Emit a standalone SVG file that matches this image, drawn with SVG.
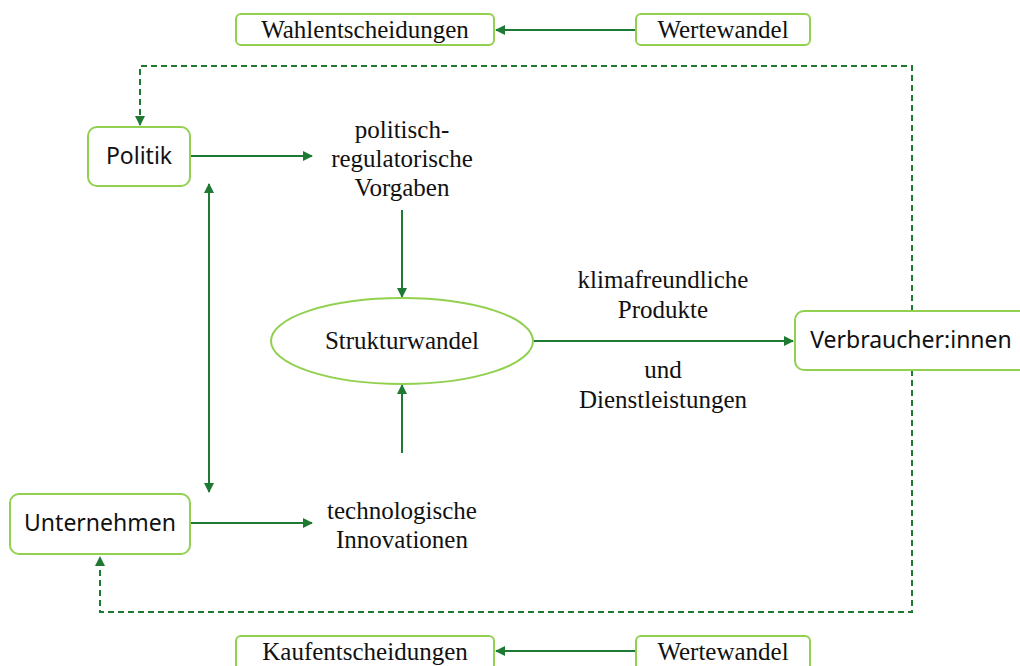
<svg xmlns="http://www.w3.org/2000/svg" width="1020" height="666" viewBox="0 0 1020 666">
<style>
.box{fill:#fff;stroke:#92d050;stroke-width:2}
.serif{font-family:"Liberation Serif","Times New Roman",serif;font-size:25px;fill:#111;text-anchor:middle}
.sans{font-family:"Noto Sans","Liberation Sans",sans-serif;font-size:23px;fill:#111;text-anchor:middle}
.ln{stroke:#1e7a32;stroke-width:2;fill:none}
.dash{stroke:#1e7a32;stroke-width:2;fill:none;stroke-dasharray:6 4}
</style>
<defs>
<marker id="ah" viewBox="0 0 10 10" refX="9" refY="5" markerWidth="5" markerHeight="5" orient="auto-start-reverse">
<path d="M0,0 L10,5 L0,10 z" fill="#1e7a32"/>
</marker>
</defs>
<rect width="1020" height="666" fill="#fff"/>
<g id="connectors">
<line class="ln" x1="636" y1="30" x2="496" y2="30" marker-end="url(#ah)"/>
<line class="ln" x1="636" y1="651" x2="496" y2="651" marker-end="url(#ah)"/>
<polyline class="dash" points="912,311 912,66 140,66 140,125" marker-end="url(#ah)"/>
<polyline class="dash" points="912,370 912,612 100,612 100,557" marker-end="url(#ah)"/>
<line class="ln" x1="190" y1="156" x2="312" y2="156" marker-end="url(#ah)"/>
<line class="ln" x1="190" y1="523" x2="312" y2="523" marker-end="url(#ah)"/>
<line class="ln" x1="209" y1="184" x2="209" y2="492" marker-start="url(#ah)" marker-end="url(#ah)"/>
<line class="ln" x1="402" y1="210" x2="402" y2="297" marker-end="url(#ah)"/>
<line class="ln" x1="402" y1="453" x2="402" y2="385" marker-end="url(#ah)"/>
<line class="ln" x1="533" y1="341" x2="793" y2="341" marker-end="url(#ah)"/>
</g>
<g id="wahlentscheidungen"><rect class="box" x="236" y="14" width="258" height="31" rx="5"/><text class="serif" x="365" y="38">Wahlentscheidungen</text></g>
<g id="wertewandel-top"><rect class="box" x="636" y="14" width="174" height="31" rx="5"/><text class="serif" x="723" y="38">Wertewandel</text></g>
<g id="kaufentscheidungen"><rect class="box" x="236" y="636" width="258" height="34" rx="5"/><text class="serif" x="365" y="660">Kaufentscheidungen</text></g>
<g id="wertewandel-bottom"><rect class="box" x="636" y="636" width="174" height="34" rx="5"/><text class="serif" x="723" y="660">Wertewandel</text></g>
<g id="politik"><rect class="box" x="88" y="127" width="102" height="59" rx="9"/><text class="sans" x="139" y="164">Politik</text></g>
<g id="unternehmen"><rect class="box" x="10" y="494" width="180" height="60" rx="9"/><text class="sans" x="100" y="531">Unternehmen</text></g>
<g id="verbraucher"><rect class="box" x="795" y="311" width="240" height="59" rx="9"/><text class="sans" x="911" y="348">Verbraucher:innen</text></g>
<g id="vorgaben"><text class="serif" x="402" y="138">politisch-</text><text class="serif" x="402" y="167">regulatorische</text><text class="serif" x="402" y="196">Vorgaben</text></g>
<g id="strukturwandel"><ellipse class="box" cx="402" cy="341" rx="131" ry="43"/><text class="serif" x="402" y="349">Strukturwandel</text></g>
<g id="innovationen"><text class="serif" x="402" y="519">technologische</text><text class="serif" x="402" y="548">Innovationen</text></g>
<g id="produkte"><text class="serif" x="663" y="288">klimafreundliche</text><text class="serif" x="663" y="318">Produkte</text><text class="serif" x="663" y="378">und</text><text class="serif" x="663" y="408">Dienstleistungen</text></g>
</svg>
